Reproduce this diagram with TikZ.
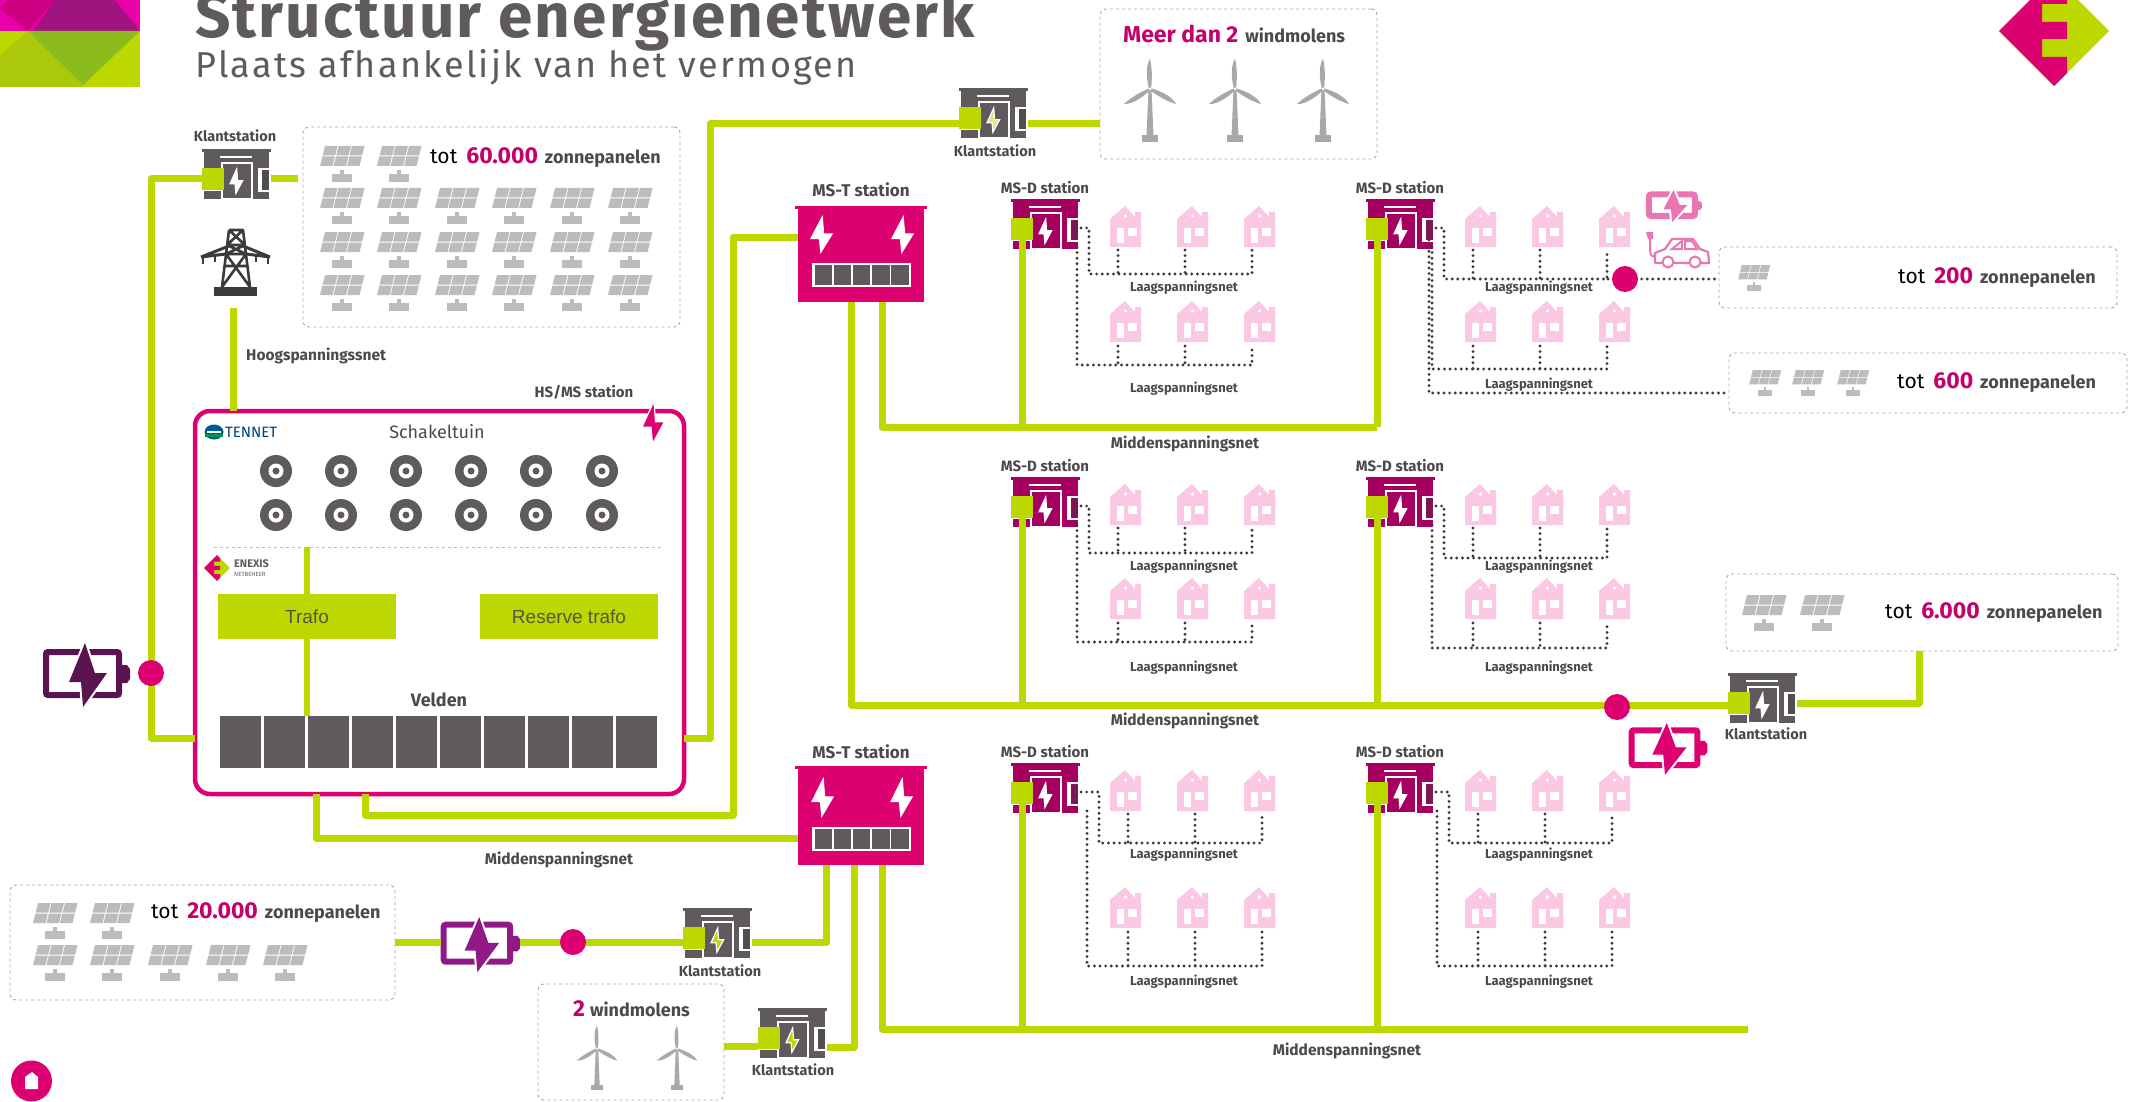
\documentclass[tikz,border=0pt]{standalone}
\usepackage{fontspec}
\setmainfont{Fira Sans}
\newfontfamily\titlefam[LetterSpace=3.5]{Fira Sans}
\newfontfamily\subfam[LetterSpace=6.5]{Fira Sans}
\newfontfamily\arialfam{Liberation Sans}
\usetikzlibrary{arrows.meta,positioning,calc}
\usepackage{xcolor}

\definecolor{mvgreen}{HTML}{BCD800}
\definecolor{dpink}{HTML}{DC0070}
\definecolor{numpink}{HTML}{C4006B}
\definecolor{lightpink}{HTML}{FAC8E2}
\definecolor{carpink}{HTML}{EA75B5}
\definecolor{msdred}{HTML}{A5005F}
\definecolor{kgray}{HTML}{5F5A5E}
\definecolor{pgray}{HTML}{BDBBBD}
\definecolor{wgray}{HTML}{A9A7A9}
\definecolor{lblgray}{HTML}{4C484B}
\definecolor{dotgray}{HTML}{3C3A3C}
\definecolor{batdark}{HTML}{5A1450}
\definecolor{batpurple}{HTML}{8F1A85}
\definecolor{logopurple}{HTML}{A0147F}
\definecolor{logomid}{HTML}{CC0080}
\definecolor{logogreen}{HTML}{8CBB1E}
\definecolor{logoolive}{HTML}{ABC80A}

\newcommand{\fsz}[1]{\fontsize{#1}{#1}\selectfont}
\newcommand{\zontxt}[1]{{\fsz{21}\color{black}tot}\hspace{9pt}{\fsz{23}\bfseries\color{numpink}#1}\hspace{7pt}{\fsz{18}\bfseries\color{lblgray}zonnepanelen}}

\tikzset{
  mvline/.style={line width=7pt,draw=mvgreen,line join=round},
  lvnet/.style={draw=dotgray,line width=3.2pt,line cap=round,dash pattern=on 0pt off 5.6pt},
  zonbox/.style={draw=gray!70,dashed,line width=.9pt,rounded corners=6pt,anchor=north west,inner sep=0pt,outer sep=0pt},
  lbl/.style={font=\bfseries\fsz{#1},text=lblgray,inner sep=0pt},
  txt/.style={inner sep=0pt,anchor=west},
  dotc/.style={circle,fill=dpink,minimum size=26pt,inner sep=0pt},
  veld/.style={fill=kgray,minimum width=40.5pt,minimum height=52pt,anchor=north west,inner sep=0pt,outer sep=0pt},
  trafobox/.style={fill=mvgreen,minimum width=178pt,minimum height=45pt,anchor=north west,inner sep=0pt,outer sep=0pt,
    font=\arialfam\fsz{19},text=kgray!85!mvgreen!80!black},
  mstbody/.style={fill=dpink,minimum width=126pt,minimum height=#1,anchor=north west,inner sep=0pt,outer sep=0pt},
  pics/bolt/.style={code={
    \path[fill=#1,draw=white,line width=1.2pt] (16,0) -- (0,39) -- (12,39) -- (14,64) -- (30,31) -- (18,31) -- cycle;
  }},
  pics/station/.style n args={2}{code={
    \fill[#1] (0,0) rectangle (69,3);
    \fill[#1] (2,3) rectangle (67,19);
    \fill[white] (18,7) rectangle (50,8.6);
    \fill[#1] (2,42) rectangle (20,50);
    \fill[#1] (48,14) rectangle (67,50);
    \fill[white] (56,19) rectangle (67,43);
    \fill[#1!60!dotgray] (59.5,21) rectangle (67,41);
    \fill[#1,draw=white,line width=1.2pt] (20,14) rectangle (50,50);
    \pic[xscale=.42,yscale=.38] at (28,20) {bolt={#2}};
    \fill[mvgreen] (0,19) rectangle (22,41);
    \coordinate (-in) at (0,30);
    \coordinate (-out) at (69,30);
    \coordinate (-feed) at (11,41);
  }},
  pics/house/.style={code={
    \fill[lightpink] (0,41) -- (0,13) -- (15,0) -- (25,11) -- (25,6) -- (31,6) -- (31,41) -- cycle;
    \fill[white] (7,22) rectangle (14,37);
    \fill[white] (18,22) rectangle (27,30);
    \fill[white] (15.5,10) circle (1.8pt);
  }},
  pics/panel/.style={code={
    \foreach \i in {0,1,2} \foreach \j in {0,1}
      \fill[pgray,xslant=.25] (-17+\i*13.5,\j*10.5) rectangle +(12.5,9.5);
    \fill[pgray] (-2,24) rectangle (2,28);
    \fill[pgray] (-10,28) rectangle (10,36);
  }},
  pics/turbine/.style={code={
    \fill[wgray] (-1.5,0) -- (1.5,0) -- (3.5,47) -- (-3.5,47) -- cycle;
    \fill[wgray] (-8,46) rectangle (8,53);
    \foreach \a in {0,120,240}
      \fill[wgray,rotate=\a] (-1,0) .. controls (-4.5,-14) and (-3.5,-25) .. (0,-30) .. controls (2.5,-20) and (2,-8) .. (1,0) -- cycle;
    \fill[white] (0,0) circle (1.5pt);
  }},
  pics/battery/.style={code={
    \draw[#1,line width=6pt,rounded corners=2pt] (3,9) rectangle (76,52);
    \fill[#1] (79,22) -- (84,22) -- (87,26) -- (87,36) -- (84,40) -- (79,40) -- cycle;
    \path[fill=#1,draw=white,line width=4pt] (42,0) -- (26,39) -- (38,39) -- (40,64) -- (64,30) -- (52,30) -- cycle;
    \fill[#1] (42,0) -- (26,39) -- (38,39) -- (40,64) -- (64,30) -- (52,30) -- cycle;
    \coordinate (-l) at (0,30);
    \coordinate (-r) at (87,30);
  }},
  pics/enexis/.style={code={
    \fill[mvgreen] (0,-55) -- (55,0) -- (0,55) -- (-55,0) -- cycle;
    \fill[dpink] (-55,0) -- (0,-55) -- (13,-42) -- (13,-27) -- (-12,-27) -- (-12,-9) -- (13,-9) -- (13,8) -- (-12,8) -- (-12,26) -- (13,26) -- (13,42) -- (0,55) -- cycle;
  }},
}

\begin{document}
\begin{tikzpicture}[x=1pt,y=-1pt,>=Stealth]
  \useasboundingbox (0,0) rectangle (2130,1102);
  \clip (0,0) rectangle (2130,1102);

  % logo en titel
  \fill[dpink!60!magenta] (0,0) rectangle (140,31);
  \fill[logomid] (0,8) -- (8,0) -- (55,0) -- (28,31) -- cycle;
  \fill[logopurple] (33,31) -- (55,0) -- (115,0) -- (140,31) -- cycle;
  \fill[mvgreen] (0,31) rectangle (140,87);
  \fill[logoolive] (0,55) -- (28,31) -- (83,85) -- (83,87) -- (0,87) -- cycle;
  \fill[logogreen] (28,31) -- (140,31) -- (83,85) -- cycle;
  \node[anchor=base west,inner sep=0pt,text=kgray,font=\titlefam\bfseries\fsz{62}] (titel) at (195,38) {Structuur energienetwerk};
  \node[anchor=base west,inner sep=0pt,text=kgray,font=\subfam\fsz{36}] (sub) at (195,78) {Plaats afhankelijk van het vermogen};
  \pic at (2054,31) {enexis};

  % dozen met opwekking
  \node[zonbox,minimum width=377pt,minimum height=200pt] (zon60) at (303,127) {};
  \node[zonbox,minimum width=277pt,minimum height=150pt] (wind3) at (1100,9) {};
  \node[zonbox,minimum width=398pt,minimum height=61pt] (zon200) at (1719,247) {};
  \node[zonbox,minimum width=398pt,minimum height=60pt] (zon600) at (1729,353) {};
  \node[zonbox,minimum width=392pt,minimum height=77pt] (zon6) at (1726,574) {};
  \node[zonbox,minimum width=385pt,minimum height=115pt] (zon20) at (10,885) {};
  \node[zonbox,minimum width=186pt,minimum height=116pt] (wind2) at (538,984) {};

  \foreach \px in {342,399} \pic at (\px,146) {panel};
  \foreach \px in {342,399,457,514,572,630} \foreach \py in {188,232,275} \pic at (\px,\py) {panel};
  \node[txt] (t60) at (430,158) {\zontxt{60.000}};
  \pic[scale=.72] at (1754,265) {panel};
  \node[txt] (t200) at (1898,278) {\zontxt{200}};
  \foreach \px in {1765,1808,1853} \pic[scale=.72] at (\px,370) {panel};
  \node[txt] (t600) at (1897,383) {\zontxt{600}};
  \foreach \px in {1764,1822} \pic at (\px,595) {panel};
  \node[txt] (t6) at (1885,613) {\zontxt{6.000}};
  \foreach \px in {55,112} \pic at (\px,903) {panel};
  \foreach \px in {55,112,170,228,285} \pic at (\px,945) {panel};
  \node[txt] (t20) at (151,913) {\zontxt{20.000}};

  \node[txt] (tw3) at (1123,34) {{\fsz{23}\bfseries\color{numpink}Meer dan 2}\hspace{7pt}{\fsz{18}\bfseries\color{lblgray}windmolens}};
  \foreach \px in {1150,1235,1323} \pic at (\px,89) {turbine};
  \node[txt] (tw2) at (573,1009) {{\fsz{23}\bfseries\color{numpink}2}\hspace{5pt}{\fsz{18}\bfseries\color{lblgray}windmolens}};
  \foreach \px in {597,677} \pic[scale=.78] at (\px,1049) {turbine};

  % klantstations
  \pic (ka) at (202,149) {station={kgray}{white}};
  \node[lbl=14.5] (kal) at (235,136) {Klantstation};
  \pic (kb) at (959,88) {station={kgray}{mvgreen!50!white}};
  \node[lbl=14.5] (kbl) at (995,151) {Klantstation};
  \pic (kc) at (1728,673) {station={kgray}{white}};
  \node[lbl=14.5] (kcl) at (1766,734) {Klantstation};
  \pic (kd) at (683,908) {station={kgray}{mvgreen}};
  \node[lbl=14.5] (kdl) at (720,971) {Klantstation};
  \pic (ke) at (758,1008) {station={kgray}{mvgreen}};
  \node[lbl=14.5] (kel) at (793,1070) {Klantstation};

  % hoogspanningsmast
  \fill[dotgray] (214,287) rectangle (257,296);
  \draw[dotgray,line width=2.6pt,line join=round] (229,230) -- (243,230) -- (250,287) (229,230) -- (222,287)
    (227,245) -- (245,245) (226,254) -- (246,254) (224,266) -- (248,266)
    (229,230) -- (245,245) (243,230) -- (227,245) (227,245) -- (246,254) (245,245) -- (226,254)
    (226,254) -- (250,287) (246,254) -- (222,287);
  \draw[dotgray,line width=3pt,line join=round] (201,257) -- (229,246) (270,257) -- (243,246) (201,257) -- (226,254) (270,257) -- (246,254);
  \draw[dotgray,line width=2pt] (203,257) -- (203,264) (215,255) -- (215,262) (268,257) -- (268,264) (256,255) -- (256,262);
  \node[lbl=15.5,anchor=west] (hsnet) at (246,356) {Hoogspanningssnet};
  \node[lbl=15] (hsl) at (584,392) {HS/MS station};

  % HS/MS station
  \node[draw=dpink,line width=4.5pt,rounded corners=15pt,minimum width=489pt,minimum height=383pt,anchor=north west,inner sep=0pt,outer sep=0pt] (hsms) at (195,411) {};
  \pic[xscale=.75,yscale=.67] at (642,401) {bolt={dpink}};
  \node[inner sep=0pt,font=\fsz{18},text=lblgray] (schak) at (437,432) {Schakeltuin};
  \fill[blue!40!cyan!60!black] (214,432) ellipse (9.5pt and 7.5pt);
  \fill[green!50!cyan!60!black] (205,434) rectangle (222.5,437);
  \fill[white] (207,431) rectangle (221,432.5);
  \node[txt,font=\fsz{15},text=blue!45!cyan!45!black] (tennet) at (225,432) {TENNET};
  \foreach \rx in {276,341,406,471,536,602} \foreach \ry in {471,515} {
    \fill[kgray] (\rx,\ry) circle (16pt);
    \fill[white] (\rx,\ry) circle (7.5pt);
    \fill[kgray] (\rx,\ry) circle (3.5pt);
  }
  \coordinate (deela) at (214,547);
  \coordinate (deelb) at (661,547);
  \draw[gray!50,dashed,line width=.7pt] (deela) -- (deelb);
  \pic[scale=.236] at (217,568) {enexis};
  \node[txt,font=\bfseries\fsz{11},text=kgray] (enx) at (234,564) {ENEXIS};
  \node[txt,font=\fsz{6},text=kgray] (enxb) at (234,574) {NETBEHEER};
  \node[trafobox] (trafo) at (218,594) {Trafo};
  \node[trafobox] (reserve) at (480,594) {Reserve trafo};
  \node[lbl=18] (velden) at (439,700) {Velden};
  \foreach \i in {0,...,9}
    \node[veld] (v\i) at (220+\i*44,716) {};
  \draw[draw=mvgreen,line width=6pt] (trafo.north |- deela) -- (trafo.north);
  \draw[draw=mvgreen,line width=6pt] (trafo.south) -- (trafo.south |- v2.north);

  % MS-T stations
  \node[mstbody=95pt] (msta) at (798,207) {};
  \fill[dpink] (795,206) rectangle (927,209);
  \foreach \bx in {811,892} \pic[xscale=.7,yscale=.55] at (\bx,217) {bolt={white}};
  \node[lbl=17] (mstal) at (861,190) {MS-T station};
  \node[mstbody=98pt] (mstb) at (798,767) {};
  \fill[dpink] (795,766) rectangle (927,769);
  \foreach \bx in {812,891} \pic[xscale=.7,yscale=.58] at (\bx,779) {bolt={white}};
  \node[lbl=17] (mstbl) at (861,752) {MS-T station};
  \foreach \ty in {263,827} {
    \fill[white] (812,\ty) rectangle (911,\ty+24);
    \foreach \i in {0,...,4} \fill[kgray] (814.5+\i*19.2,\ty+2) rectangle +(17.5,20);
  }

  % MS-D stations met huizen
  \coordinate (busa) at (882,427);
  \coordinate (busb) at (851,705);
  \coordinate (busc) at (882,1029);
  \foreach \nm/\sx/\sy/\hy/\iy/\oy/\la/\lb/\dd/\bus in {
    da/1011/199/301/274/365/288/389/0/busa,
    db/1366/199/301/279/369/288/385/0/busa,
    dc/1011/477/578/553/642/567/668/0/busb,
    dd/1366/477/578/558/648/567/668/0/busb,
    de/1011/763/887/843/966/855/982/10/busc,
    df/1366/763/887/843/966/855/982/5/busc} {
    \pic (\nm) at (\sx,\sy) {station={msdred}{white}};
    \node[lbl=15] (\nm l) at (\sx+34,\sy-11) {MS-D station};
    \foreach \hx in {114,181,248} {
      \pic at (\sx+\hx-15,\sy+7) {house};
      \pic at (\sx+\hx-15,\hy) {house};
    }
    \node[lbl=13] (\nm a) at (\sx+173,\la) {Laagspanningsnet};
    \node[lbl=13] (\nm b) at (\sx+173,\lb) {Laagspanningsnet};
    \draw[lvnet] (\sx+70,\sy+29) -- (\sx+78+\dd,\sy+29) -- (\sx+78+\dd,\iy) -- (\sx+241+\dd,\iy) -- (\sx+241+\dd,\sy+51);
    \draw[lvnet] (\sx+66+\dd,\sy+48) -- (\sx+66+\dd,\oy) -- (\sx+241+\dd,\oy) -- (\sx+241+\dd,\hy+45);
    \foreach \hx in {107,174} {
      \draw[lvnet] (\sx+\hx+\dd,\sy+51) -- (\sx+\hx+\dd,\iy);
      \draw[lvnet] (\sx+\hx+\dd,\hy+45) -- (\sx+\hx+\dd,\oy);
    }
    \draw[mvline] (\nm-feed) -- (\nm-feed |- \bus);
  }
  \coordinate (lvuit) at (1429,393);
  \coordinate (lvrond) at (1608,279);
  \draw[lvnet] (lvrond) -- (zon200.west |- lvrond);
  \draw[lvnet] (lvuit |- db-feed) -- (lvuit) -- (zon600.west |- lvuit);

  % batterijen en auto
  \pic (bata) at (43,643) {battery={batdark}};
  \pic[xscale=.91,yscale=.86] (batb) at (441,917) {battery={batpurple}};
  \pic[xscale=.9,yscale=.81] (batc) at (1629,723) {battery={dpink}};
  \pic[xscale=.63,yscale=.5] (batd) at (1647,190) {battery={carpink}};
  \begin{scope}[shift={(1645,232)}]
    \draw[carpink,line width=2.2pt,line join=round] (10,31) -- (10,21) -- (20,17) -- (27,7) -- (48,7) -- (55,17) -- (63,20) -- (64,31) -- cycle;
    \draw[carpink,line width=2pt] (27,17) -- (37,9) -- (37,17) -- cycle (40,9) -- (47,9) -- (52,17) -- (40,17) -- cycle;
    \draw[carpink,line width=2pt,fill=white] (23,30) circle (5.5pt) (50,30) circle (5.5pt);
    \draw[carpink,line width=2pt] (5,6) -- (5,18) .. controls (5,24) and (8,25) .. (10,25);
    \fill[carpink] (1,0) -- (8,0) -- (8,7) -- (3,7) -- cycle;
  \end{scope}

  % middenspanning
  \coordinate (lcol) at (151,738);
  \coordinate (rcol) at (710,738);
  \coordinate (rtop) at (710,124);
  \coordinate (mast) at (233,308);
  \coordinate (hbl) at (316,838);
  \coordinate (hbr) at (365,815);
  \coordinate (tcol) at (733,237);
  \coordinate (zonin) at (298,179);
  \coordinate (kyb) at (826,942);
  \coordinate (kye) at (854,1047);
  \coordinate (kyw) at (741,1046);
  \coordinate (ky6) at (1919,703);
  \coordinate (bend) at (1748,1029);
  \draw[mvline] (mast) -- (mast |- hsms.north);
  \draw[mvline] (ka-in) -| (lcol) -- (hsms.west |- lcol);
  \draw[mvline] (ka-out) -- (zonin);
  \draw[mvline] (hsms.east |- rcol) -- (rcol) -- (rtop) -- (rtop -| kb-in);
  \draw[mvline] (rtop -| kb-out) -- (rtop -| wind3.west);
  \draw[mvline] (hbr |- hsms.south) -- (hbr) -| (tcol) -- (tcol -| msta.west);
  \draw[mvline] (hbl |- hsms.south) -- (hbl) -- (hbl -| mstb.west);
  \draw[mvline] (busa |- msta.south) -- (busa) -- (busa -| db-feed);
  \draw[mvline] (busb |- msta.south) -- (busb) -- (busb -| kc-in);
  \draw[mvline] (busc |- mstb.south) -- (busc) -- (bend);
  \draw[mvline] (kyb |- mstb.south) -- (kyb) -- (kyb -| kd-out);
  \draw[mvline] (kye |- mstb.south) -- (kye) -- (kye -| ke-out);
  \draw[mvline] (kyb -| zon20.east) -- (kyb -| batb-l);
  \draw[mvline] (kyb -| batb-r) -- (kyb -| kd-in);
  \draw[mvline] (kyw -| wind2.east) -- (kyw -| ke-in);
  \draw[mvline] (ky6 -| kc-out) -- (ky6) -- (ky6 |- zon6.south);

  \node[lbl=15.5] (mva) at (1185,444) {Middenspanningsnet};
  \node[lbl=15.5] (mvb) at (1185,721) {Middenspanningsnet};
  \node[lbl=15.5] (mvc) at (1347,1051) {Middenspanningsnet};
  \node[lbl=15.5] (mvd) at (559,860) {Middenspanningsnet};

  \node[dotc] (sta) at (151,673) {};
  \node[dotc] (stb) at (573,942) {};
  \node[dotc] (stc) at (1617,707) {};
  \node[dotc] (std) at (1625,279) {};

  % terugknop
  \fill[dpink] (31.5,1081) circle (20.5pt);
  \fill[white] (25,1089) -- (25,1077) -- (32,1072) -- (38,1077) -- (38,1089) -- cycle;
\end{tikzpicture}
\end{document}
